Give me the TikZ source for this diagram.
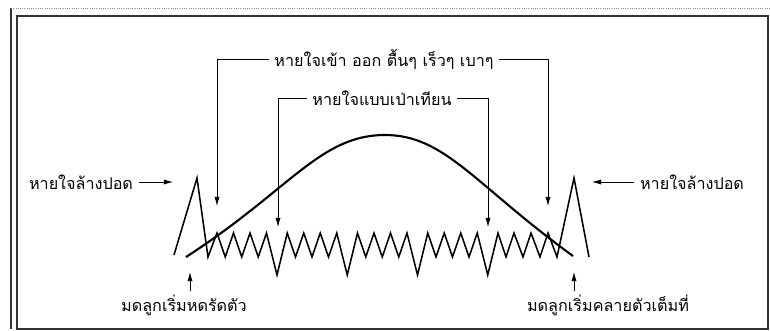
\documentclass[tikz,border=0pt]{standalone}
\usepackage{fontspec}
\newfontfamily\thaifont[Script=Thai]{Loma}
\usetikzlibrary{arrows.meta}

\begin{document}
\begin{tikzpicture}[
  x=0.025cm, y=-0.025cm,
  every node/.style={font=\thaifont\fontsize{11.5}{13}\selectfont, inner ysep=2pt, inner xsep=4pt},
  lbl/.style   ={text=black},
  pointer/.style={-{Latex[length=2.3mm, width=1.3mm]}, line width=0.5pt},
  wave/.style  ={line width=1.1pt, line join=miter},
  curve/.style ={line width=1.5pt},
  frame/.style ={line width=0.9pt, black!80}
]
\useasboundingbox (0,0) rectangle (770,330);

% frame
\draw[frame] (17,16) rectangle (768,329);
\draw[frame, line width=1.3pt] (11,8) -- (11,329);
\draw[black!45, densely dotted, line width=0.6pt] (11,8) -- (770,8);

% labels
\node[lbl] (fast)  at (384,59) {หายใจเข้า ออก ตื้นๆ เร็วๆ เบาๆ};
\node[lbl] (blow)  at (382,98) {หายใจแบบเป่าเทียน};
\node[lbl] (purgeL) at (81,182) {หายใจล้างปอด};
\node[lbl] (purgeR) at (692,182) {หายใจล้างปอด};
\node[lbl] (start) at (184,305) {มดลูกเริ่มหดรัดตัว};
\node[lbl] (relax) at (608,305) {มดลูกเริ่มคลายตัวเต็มที่};

% arrow tips
\coordinate (fastA) at (217,206);
\coordinate (fastB) at (548,206);
\coordinate (blowA) at (278,227);
\coordinate (blowB) at (488,227);
\coordinate (peakL) at (173,182);
\coordinate (peakR) at (592,182);
\coordinate (startT) at (190,272);
\coordinate (relaxT) at (574,272);

% contraction curve
\draw[curve] (186,257) .. controls (290,190) and (320,135) .. (385,135)
  .. controls (445,135) and (475,185) .. (573,256);

% breathing trace
\draw[wave] (174,255) -- (197,178) -- (208,257)
  \foreach \g in {0,...,3}{
    -- ({217+70.25*\g},233) -- ({225.25+70.25*\g},257)
    -- ({233.5+70.25*\g},233) -- ({241.75+70.25*\g},257)
    -- ({250+70.25*\g},233) -- ({258.25+70.25*\g},257)
    -- ({266.5+70.25*\g},233) -- ({277+70.25*\g},275)
  }
  -- (498,233) -- (506,257) -- (514,233) -- (523,257)
  -- (531,233) -- (540,257) -- (548,233) -- (557,257)
  -- (574,178) -- (589,257);

% pointers
\draw[pointer] (fast.west) -| (fastA);
\draw[pointer] (fast.east) -| (fastB);
\draw[pointer] (blow.west) -| (blowA);
\draw[pointer] (blow.east) -| (blowB);
\draw[pointer] (purgeL.east) -- (peakL);
\draw[pointer] (purgeR.west) -- (peakR);
\draw[pointer] (start.north -| startT) -- (startT);
\draw[pointer] (relax.north -| relaxT) -- (relaxT);

\end{tikzpicture}
\end{document}
